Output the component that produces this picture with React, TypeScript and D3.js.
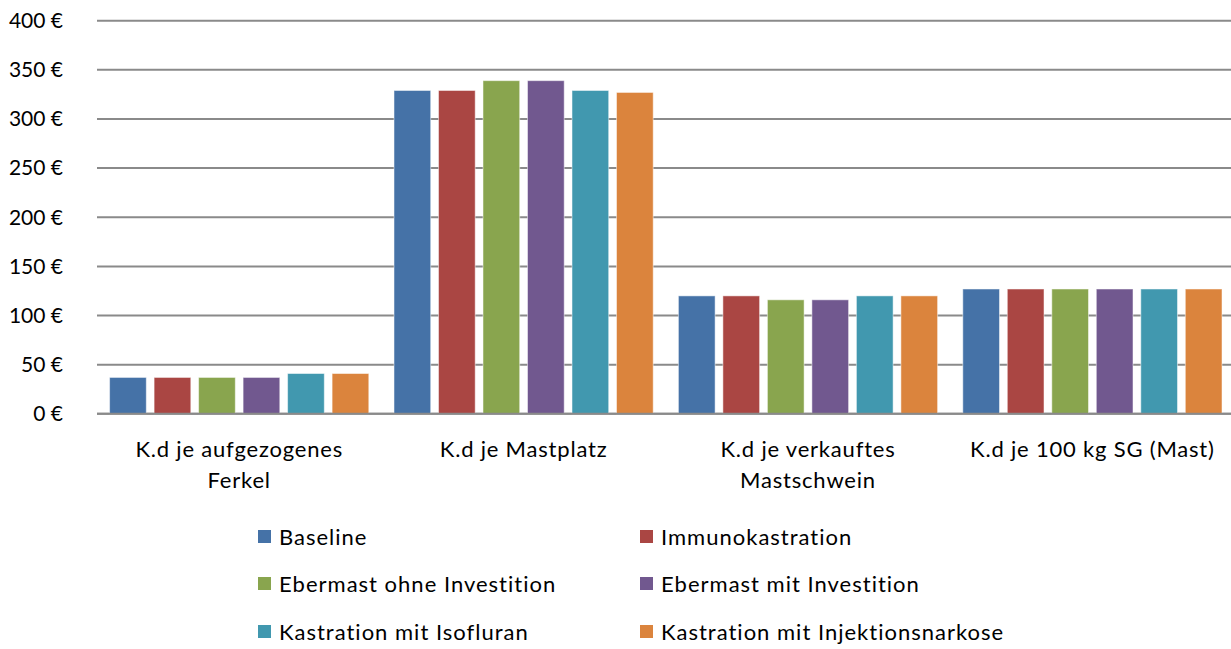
import { useEffect, useRef } from 'react';
import * as d3 from 'd3';

const categories = [
  ['K.d je aufgezogenes', 'Ferkel'],
  ['K.d je Mastplatz'],
  ['K.d je verkauftes', 'Mastschwein'],
  ['K.d je 100 kg SG (Mast)'],
];

const seriesNames = [
  'Baseline',
  'Immunokastration',
  'Ebermast ohne Investition',
  'Ebermast mit Investition',
  'Kastration mit Isofluran',
  'Kastration mit Injektionsnarkose',
];

const seriesColors = ['#4572A7', '#AA4643', '#89A54E', '#71588F', '#4198AF', '#DB843D'];

// one array per series, values per category
const baseline = [37, 329, 120, 127];
const immuno = [37, 329, 120, 127];
const eberOhne = [37, 339, 116, 127];
const eberMit = [37, 339, 116, 127];
const isofluran = [41, 329, 120, 127];
const injektion = [41, 327, 120, 127];

const seriesValues = [baseline, immuno, eberOhne, eberMit, isofluran, injektion];

const yTicks = [0, 50, 100, 150, 200, 250, 300, 350, 400];

const W = 1231;
const H = 649;
const FONT = 'Lato, "Open Sans", sans-serif';

export default function App() {
  const svgRef = useRef<SVGSVGElement>(null);

  useEffect(() => {
    document.body.style.margin = '0';
    if (!svgRef.current) return;
    const svg = d3.select(svgRef.current);
    svg.selectAll('*').remove();

    const left = 97;
    const right = 1234.6;
    const top = 20.7;
    const bottom = 413.8;

    const catKeys = categories.map((_, i) => String(i));
    const x0 = d3.scaleBand().domain(catKeys).range([left, right]).padding(0);
    const x1 = d3.scaleBand()
      .domain(seriesNames)
      .range([0, x0.bandwidth()])
      .paddingInner(0.175)
      .paddingOuter(0.283);
    const y = d3.scaleLinear().domain([0, 400]).range([bottom, top]);

    // grid lines
    svg.append('g')
      .selectAll('line')
      .data(yTicks)
      .join('line')
      .attr('x1', left)
      .attr('x2', W)
      .attr('y1', d => y(d))
      .attr('y2', d => y(d))
      .attr('stroke', '#8a8a8a')
      .attr('stroke-width', 2);

    // y tick labels
    svg.append('g')
      .selectAll('text')
      .data(yTicks)
      .join('text')
      .attr('x', 63)
      .attr('y', d => y(d))
      .attr('dy', '0.35em')
      .attr('text-anchor', 'end')
      .style('font-family', FONT)
      .style('font-size', '21px')
      .style('fill', '#000')
      .text(d => `${d} €`);

    // bars
    const groups = svg.append('g')
      .selectAll('g')
      .data(catKeys)
      .join('g')
      .attr('transform', d => `translate(${x0(d)},0)`);

    groups.selectAll('rect')
      .data((_, ci) => seriesNames.map((s, si) => ({ s, si, v: seriesValues[si][ci] })))
      .join('rect')
      .attr('x', d => x1(d.s) || 0)
      .attr('width', x1.bandwidth())
      .attr('y', d => y(d.v))
      .attr('height', d => y(0) - y(d.v))
      .attr('fill', d => seriesColors[d.si])
      .attr('stroke', '#ffffff')
      .attr('stroke-opacity', 0.5)
      .attr('stroke-width', 1);

    // zero line over bars
    svg.append('line')
      .attr('x1', left)
      .attr('x2', W)
      .attr('y1', y(0))
      .attr('y2', y(0))
      .attr('stroke', '#8a8a8a')
      .attr('stroke-width', 2);

    // category labels
    const catLabels = svg.append('g')
      .selectAll('text')
      .data(categories)
      .join('text')
      .attr('x', (_, i) => (x0(String(i)) || 0) + x0.bandwidth() / 2)
      .attr('y', 457)
      .attr('text-anchor', 'middle')
      .style('font-family', FONT)
      .style('font-size', '22px')
      .style('letter-spacing', '0.8px')
      .style('fill', '#000');

    catLabels.selectAll('tspan')
      .data(d => d)
      .join('tspan')
      .attr('x', function () {
        return (this.parentNode as SVGTextElement).getAttribute('x');
      })
      .attr('dy', (_, i) => (i === 0 ? 0 : 31))
      .text(d => d);

    // legend
    const legendX = [258, 640];
    const legendY = [537, 584, 632];
    const legend = svg.append('g')
      .selectAll('g')
      .data(seriesNames)
      .join('g')
      .attr('transform', (_, i) => `translate(${legendX[i % 2]},${legendY[Math.floor(i / 2)]})`);

    legend.append('rect')
      .attr('x', 0)
      .attr('y', -7)
      .attr('width', 13)
      .attr('height', 13)
      .attr('fill', (_, i) => seriesColors[i]);

    legend.append('text')
      .attr('x', 21)
      .attr('y', 0)
      .attr('dy', '0.35em')
      .style('font-family', FONT)
      .style('font-size', '22px')
      .style('letter-spacing', '1px')
      .style('fill', '#000')
      .text(d => d);
  }, []);

  return (
    <svg ref={svgRef} width={W} height={H} style={{ display: 'block', background: '#fff' }} />
  );
}
